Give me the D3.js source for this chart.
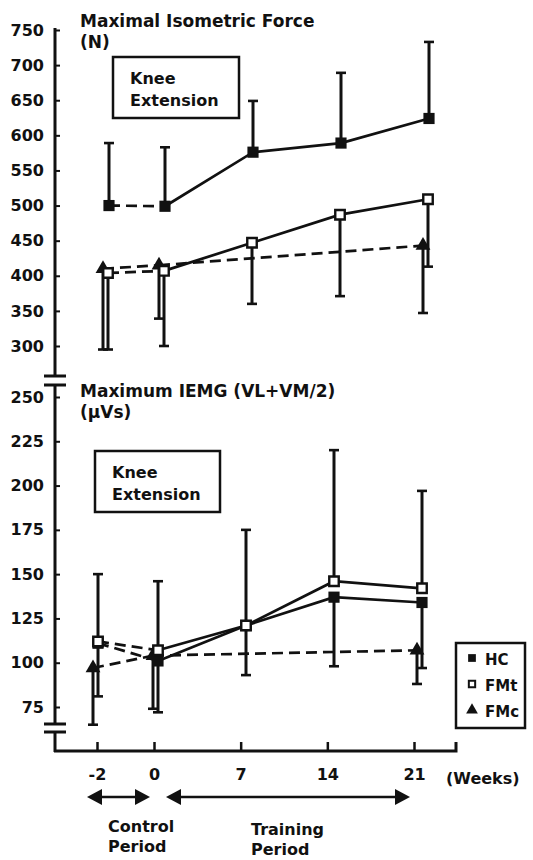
<!DOCTYPE html>
<html>
<head>
<meta charset="utf-8">
<script src="https://cdn.jsdelivr.net/npm/d3@7.9.0/dist/d3.min.js"></script>
<style>
  body { margin: 0; background: #fff; }
  svg { display: block; font-family: "DejaVu Sans", sans-serif; font-weight: bold; }
</style>
</head>
<body>
<svg id="chart" width="533" height="860"></svg>
<script>
// time points (weeks)
const weeks = [-2, 0, 7, 14, 21];
const weekLabels = ["-2", "0", "7", "14", "21"];

// top panel: maximal isometric force (N)
const forceTicks = [300, 350, 400, 450, 500, 550, 600, 650, 700, 750];
const hcForce = [500, 499, 576, 589, 624];
const hcForceUpper = [589, 583, 649, 689, 733];
const fmtForce = [404, 407, 447, 487, 509];
const fmtForceLower = [295, 300, 360, 371, 413];
const fmcForce = [410, 415, null, null, 443];
const fmcForceLower = [295, 339, null, null, 347];

// bottom panel: maximum IEMG (µVs)
const emgTicks = [75, 100, 125, 150, 175, 200, 225, 250];
const hcEmg = [111, 101, 121, 137, 134];
const hcEmgLower = [81, 72, 93, 98, 97];
const fmtEmg = [112, 107, 121, 146, 142];
const fmtEmgUpper = [150, 146, 175, 220, 197];
const fmcEmg = [97, 104, null, null, 107];
const fmcEmgLower = [65, 74, null, null, 88];

const groups = ["HC", "FMt", "FMc"];

const svg = d3.select("#chart");
const ink = "#111";
const axisX = 55;

// scales
const xAxisScale = d3.scaleLinear().domain([-2, 0, 21]).range([97, 154, 414]);
const xTop = d3.scaleLinear().domain([-2, 0, 21]).range([108, 164, 428]);
const xBot = d3.scaleLinear().domain([-2, 0, 21]).range([98, 158, 422]);
const yTop = d3.scaleLinear().domain([300, 750]).range([346, 30]);
const yBot = d3.scaleLinear().domain([75, 250]).range([707, 397]);

function yAxis(scale, ticks) {
  const g = svg.append("g").attr("transform", `translate(${axisX},0)`)
    .call(d3.axisLeft(scale).tickValues(ticks).tickSize(-5).tickSizeOuter(0).tickPadding(11));
  g.select(".domain").remove();
  g.selectAll(".tick line").attr("stroke", ink).attr("stroke-width", 2);
  g.selectAll(".tick text").attr("fill", ink).style("font-size", "16px")
    .style("font-family", "DejaVu Sans").style("font-weight", "bold");
}
yAxis(yTop, forceTicks);
yAxis(yBot, emgTicks);

// y axis line with breaks
const axisSegs = [[28, 376], [385, 724], [732, 752]];
svg.selectAll(".yseg").data(axisSegs).join("line")
  .attr("x1", axisX).attr("x2", axisX)
  .attr("y1", d => d[0]).attr("y2", d => d[1])
  .attr("stroke", ink).attr("stroke-width", 3);
const breaks = [376, 385, 724, 732];
svg.selectAll(".brk").data(breaks).join("line")
  .attr("x1", axisX - 11).attr("x2", axisX + 11)
  .attr("y1", d => d).attr("y2", d => d)
  .attr("stroke", ink).attr("stroke-width", 3);

// x axis
const xg = svg.append("g").attr("transform", "translate(0,751)")
  .call(d3.axisBottom(xAxisScale).tickValues(weeks).tickFormat((d, i) => weekLabels[i])
    .tickSize(-9).tickSizeOuter(0).tickPadding(18));
xg.select(".domain").remove();
xg.selectAll(".tick line").attr("stroke", ink).attr("stroke-width", 2.5);
xg.selectAll(".tick text").attr("fill", ink).style("font-size", "16px")
  .style("font-family", "DejaVu Sans").style("font-weight", "bold");
svg.append("path").attr("d", "M54,751H456V742")
  .attr("fill", "none").attr("stroke", ink).attr("stroke-width", 3);
svg.append("text").attr("x", 446).attr("y", 784).attr("font-size", 16).attr("fill", ink).text("(Weeks)");

// period arrows
function arrow(x1, x2, y) {
  svg.append("line").attr("x1", x1 + 10).attr("x2", x2 - 10).attr("y1", y).attr("y2", y)
    .attr("stroke", ink).attr("stroke-width", 2.5);
  svg.append("path").attr("d", `M${x1},${y}l15,-8v16z`).attr("fill", ink);
  svg.append("path").attr("d", `M${x2},${y}l-15,-8v16z`).attr("fill", ink);
}
arrow(xAxisScale(-2) - 10, xAxisScale(0) - 4, 797);
arrow(xAxisScale(0) + 12, xAxisScale(21) - 4, 797);
const periodText = [["Control", "Period", 108, 832], ["Training", "Period", 251, 835]];
periodText.forEach(([a, b, x, y]) => {
  svg.append("text").attr("x", x).attr("y", y).attr("font-size", 16).attr("fill", ink).text(a);
  svg.append("text").attr("x", x).attr("y", y + 20).attr("font-size", 16).attr("fill", ink).text(b);
});

// panel titles
function title(lines, x, y) {
  lines.forEach((t, i) => svg.append("text").attr("x", x).attr("y", y + i * 21)
    .attr("font-size", 17).attr("fill", ink).text(t));
}
title(["Maximal Isometric Force", "(N)"], 80, 27);
title(["Maximum IEMG (VL+VM/2)", "(µVs)"], 80, 397);

// Knee Extension boxes
function kneeBox(x, y, w, h) {
  svg.append("rect").attr("x", x).attr("y", y).attr("width", w).attr("height", h)
    .attr("fill", "#fff").attr("stroke", ink).attr("stroke-width", 2.5);
  svg.append("text").attr("x", x + 17).attr("y", y + 27).attr("font-size", 16).attr("fill", ink).text("Knee");
  svg.append("text").attr("x", x + 17).attr("y", y + 49).attr("font-size", 16).attr("fill", ink).text("Extension");
}
kneeBox(113, 57, 126, 61);
kneeBox(95, 451, 125, 61);

// markers
const sym = {
  HC: d3.symbol(d3.symbolSquare, 125)(),
  FMt: d3.symbol(d3.symbolSquare, 90)(),
  FMc: d3.symbol(d3.symbolTriangle, 95)()
};
function marker(g, name, cx, cy) {
  g.append("path").attr("d", sym[name]).attr("transform", `translate(${cx},${cy})`)
    .attr("fill", name === "FMt" ? "#fff" : ink)
    .attr("stroke", ink).attr("stroke-width", name === "FMt" ? 2.4 : 0);
}

function drawPanel(x, y, series, bars) {
  const g = svg.append("g");
  // error bars
  bars.forEach(b => {
    weeks.forEach((w, i) => {
      if (b.from[i] == null) return;
      const cx = x(w) + b.dx;
      g.append("line").attr("x1", cx).attr("x2", cx)
        .attr("y1", y(b.from[i])).attr("y2", y(b.to[i]))
        .attr("stroke", ink).attr("stroke-width", 3);
      g.append("line").attr("x1", cx - 5).attr("x2", cx + 5)
        .attr("y1", y(b.to[i])).attr("y2", y(b.to[i]))
        .attr("stroke", ink).attr("stroke-width", 2.6);
    });
  });
  // connecting lines
  const line = d3.line().x(d => d[0]).y(d => d[1]);
  series.forEach(s => {
    const pts = weeks.map((w, i) => s.values[i] == null ? null : [x(w) + s.dx, y(s.values[i])])
      .filter(p => p);
    g.append("path").attr("d", line(pts.slice(0, 2))).attr("fill", "none")
      .attr("stroke", ink).attr("stroke-width", 2.7).attr("stroke-dasharray", "11,6");
    g.append("path").attr("d", line(pts.slice(1))).attr("fill", "none")
      .attr("stroke", ink).attr("stroke-width", 2.7)
      .attr("stroke-dasharray", s.dashed ? "11,6" : null);
  });
  // markers
  series.forEach(s => {
    weeks.forEach((w, i) => {
      if (s.values[i] == null) return;
      marker(g, s.name, x(w) + s.dx, y(s.values[i]));
    });
  });
}

drawPanel(xTop, yTop,
  [{ name: "FMc", values: fmcForce, dx: -5, dashed: true },
   { name: "HC", values: hcForce, dx: 1, dashed: false },
   { name: "FMt", values: fmtForce, dx: 0, dashed: false }],
  [{ from: hcForce, to: hcForceUpper, dx: 1 },
   { from: fmtForce, to: fmtForceLower, dx: 0 },
   { from: fmcForce, to: fmcForceLower, dx: -5 }]);

drawPanel(xBot, yBot,
  [{ name: "FMc", values: fmcEmg, dx: -5, dashed: true },
   { name: "HC", values: hcEmg, dx: 0, dashed: false },
   { name: "FMt", values: fmtEmg, dx: 0, dashed: false }],
  [{ from: fmtEmg, to: fmtEmgUpper, dx: 0 },
   { from: hcEmg, to: hcEmgLower, dx: 0 },
   { from: fmcEmg, to: fmcEmgLower, dx: -5 }]);

// legend
const lg = svg.append("g");
lg.append("rect").attr("x", 456).attr("y", 643).attr("width", 69).attr("height", 85)
  .attr("fill", "#fff").attr("stroke", ink).attr("stroke-width", 2.5);
const legendSym = {
  HC: d3.symbol(d3.symbolSquare, 60)(),
  FMt: d3.symbol(d3.symbolSquare, 40)(),
  FMc: d3.symbol(d3.symbolTriangle, 60)()
};
groups.forEach((name, i) => {
  const cy = 659 + i * 26;
  lg.append("path").attr("d", legendSym[name]).attr("transform", `translate(472,${cy - 1})`)
    .attr("fill", name === "FMt" ? "#fff" : ink)
    .attr("stroke", ink).attr("stroke-width", name === "FMt" ? 2 : 0);
  lg.append("text").attr("x", 485).attr("y", cy + 6).attr("font-size", 15).attr("fill", ink).text(name);
});
</script>
</body>
</html>
